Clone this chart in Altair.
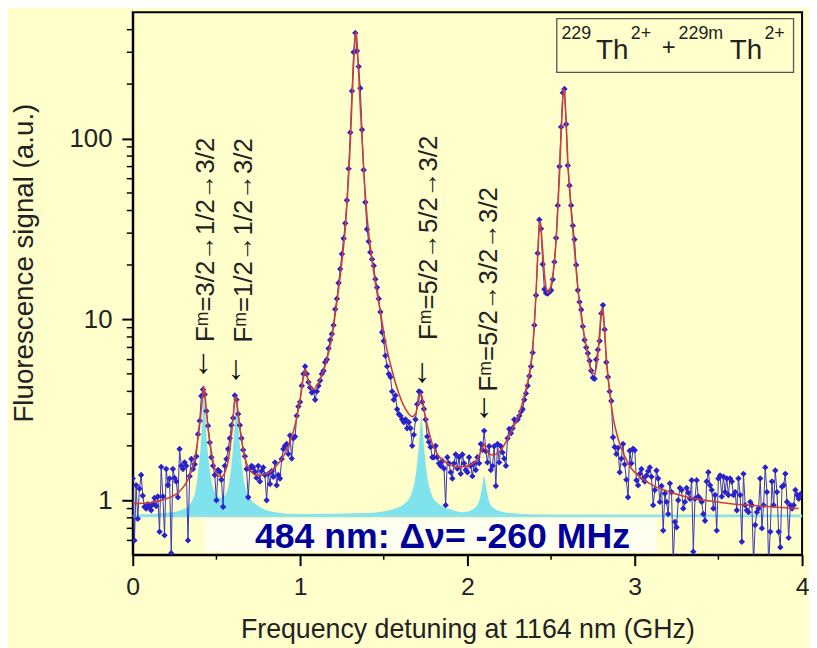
import altair as alt
import pandas as pd

FONT = "Liberation Sans, Arial, Helvetica, sans-serif"
BG = "#FFFFCC"

# ---------------- data ----------------
X_STEP = 0.01  # scan step (GHz)
SIGNAL = [
    1.32, 0.60, 1.21, 0.79, 1.16, 1.38, 1.06, 0.92, 0.90, 0.95,
    0.92, 0.88, 0.95, 1.03, 0.93, 1.05, 0.67, 1.53, 1.05, 0.64,
    1.49, 1.21, 1.32, 0.51, 1.49, 1.33, 1.27, 1.04, 1.92, 1.55,
    1.49, 1.62, 1.55, 0.60, 1.36, 1.69, 1.49, 1.58, 1.75, 2.32,
    2.75, 3.77, 4.10, 3.85, 3.12, 2.58, 2.09, 1.73, 1.55, 1.38,
    1.00, 1.47, 1.44, 1.30, 0.92, 1.55, 1.69, 1.92, 2.20, 2.60,
    2.85, 3.80, 3.60, 3.00, 2.60, 2.20, 1.90, 1.75, 1.49, 1.04,
    1.49, 1.55, 1.52, 1.44, 1.33, 1.55, 1.27, 1.45, 1.52, 1.38,
    1.00, 1.40, 1.23, 1.45, 1.35, 1.62, 1.21, 1.38, 1.32, 1.69,
    1.92, 2.00, 2.05, 1.80, 2.28, 1.70, 2.20, 2.25, 2.93, 3.30,
    3.50, 4.30, 5.00, 5.50, 5.00, 4.50, 4.20, 3.94, 4.00, 3.60,
    4.00, 4.30, 4.60, 5.00, 5.20, 5.80, 6.00, 6.90, 7.70, 8.30,
    9.30, 11.4, 13.0, 15.9, 19.0, 23.0, 28.0, 34.0, 45.6, 68.0,
    108, 183, 300, 384, 305, 250, 190, 112, 67.0, 44.5,
    31.5, 27.0, 23.5, 21.5, 19.8, 16.7, 15.0, 13.0, 11.0, 8.50,
    7.60, 6.30, 5.50, 5.00, 4.80, 4.00, 3.60, 3.80, 3.19, 3.00,
    2.93, 2.80, 2.70, 2.80, 2.50, 2.70, 2.50, 2.00, 2.30, 2.80,
    3.40, 4.00, 3.96, 3.50, 3.20, 2.80, 2.25, 2.10, 1.97, 1.73,
    1.73, 2.00, 1.73, 1.60, 1.55, 1.65, 1.50, 0.94, 1.73, 1.60,
    1.43, 1.32, 1.60, 1.79, 1.50, 1.73, 1.40, 1.79, 1.60, 1.47,
    1.43, 1.73, 1.55, 1.36, 1.60, 1.47, 1.73, 1.60, 2.05, 1.90,
    2.42, 1.87, 1.62, 1.99, 1.47, 1.55, 1.99, 1.20, 2.05, 1.62,
    1.99, 1.84, 1.70, 1.55, 2.20, 2.48, 2.35, 2.50, 2.80, 2.75,
    2.80, 2.93, 3.10, 3.19, 3.60, 3.90, 4.30, 4.86, 5.50, 6.55,
    9.30, 13.6, 23.2, 35.6, 31.7, 20.2, 14.7, 14.0, 13.9, 14.2,
    14.5, 16.6, 20.8, 28.2, 42.7, 70.0, 116, 179, 188, 120,
    71.0, 55.0, 42.7, 33.0, 27.7, 20.0, 14.5, 12.5, 11.3, 9.15,
    7.70, 7.00, 6.50, 5.90, 5.20, 4.76, 4.70, 6.00, 6.80, 7.60,
    10.8, 12.0, 8.80, 5.80, 4.80, 4.00, 3.54, 2.23, 1.97, 1.80,
    1.95, 1.43, 1.70, 2.05, 1.58, 1.30, 1.04, 1.88, 1.60, 1.93,
    1.89, 1.29, 1.21, 1.40, 1.49, 1.32, 1.27, 1.37, 1.45, 1.52,
    1.35, 0.94, 1.14, 1.46, 1.32, 0.98, 1.20, 0.68, 1.09, 0.98,
    0.84, 1.24, 1.11, 0.45, 0.76, 0.71, 1.00, 1.17, 1.14, 0.90,
    0.98, 1.17, 1.10, 1.02, 1.29, 0.52, 1.02, 1.29, 1.05, 1.02,
    0.98, 0.84, 0.77, 1.27, 1.43, 1.21, 1.14, 0.90, 1.07, 0.68,
    1.32, 1.37, 1.05, 1.35, 1.11, 1.32, 1.07, 1.32, 1.27, 1.07,
    1.11, 0.88, 1.32, 1.07, 0.59, 1.40, 0.94, 0.88, 0.86, 0.98,
    0.94, 0.45, 0.73, 0.86, 0.90, 1.32, 0.70, 0.94, 1.52, 1.11,
    0.44, 0.67, 1.27, 0.94, 1.46, 1.11, 0.67, 0.55, 1.19, 1.21,
    1.40, 0.98, 0.62, 0.94, 0.90, 0.94, 1.14, 1.07, 1.02, 1.08,
]

# fitted curve (red)
FIT_CURVE = [
    (0.00, 0.96), (0.10, 0.97), (0.20, 1.02), (0.28, 1.12), (0.33, 1.30), (0.36, 1.55),
    (0.38, 1.90), (0.40, 2.60), (0.41, 3.20), (0.42, 3.95), (0.425, 4.25), (0.43, 4.00),
    (0.44, 3.10), (0.45, 2.50), (0.47, 1.85), (0.49, 1.50), (0.51, 1.37), (0.53, 1.35),
    (0.55, 1.42), (0.57, 1.65), (0.59, 2.30), (0.60, 2.90), (0.61, 3.55), (0.615, 3.75),
    (0.62, 3.60), (0.63, 3.00), (0.64, 2.50), (0.66, 1.90), (0.68, 1.60), (0.71, 1.43),
    (0.75, 1.37), (0.80, 1.40), (0.85, 1.52), (0.90, 1.75), (0.94, 2.10), (0.97, 2.60),
    (1.00, 3.60), (1.02, 4.80), (1.03, 5.30), (1.04, 4.90), (1.06, 4.30), (1.08, 4.10),
    (1.10, 4.30), (1.13, 4.90), (1.16, 6.00), (1.19, 8.00), (1.22, 12.5), (1.25, 21.0),
    (1.27, 32.0), (1.29, 62.0), (1.30, 95.0), (1.31, 160), (1.32, 260), (1.33, 375),
    (1.335, 390), (1.34, 345), (1.35, 230), (1.36, 150), (1.37, 100), (1.38, 68.0),
    (1.40, 37.0), (1.42, 25.0), (1.45, 16.0), (1.48, 11.0), (1.51, 7.50), (1.55, 5.20),
    (1.59, 3.90), (1.63, 3.20), (1.67, 2.90), (1.69, 3.00), (1.70, 3.25), (1.71, 3.60),
    (1.72, 3.90), (1.73, 3.70), (1.74, 3.20), (1.76, 2.60), (1.79, 2.05), (1.83, 1.75),
    (1.88, 1.60), (1.94, 1.53), (2.00, 1.55), (2.05, 1.65), (2.08, 1.85), (2.095, 2.00),
    (2.10, 2.05), (2.105, 2.00), (2.12, 1.85), (2.15, 1.78), (2.19, 1.85), (2.23, 2.10),
    (2.27, 2.50), (2.31, 3.00), (2.34, 3.80), (2.37, 5.00), (2.39, 7.00), (2.40, 9.50),
    (2.41, 14.0), (2.42, 22.0), (2.43, 33.0), (2.435, 35.0), (2.44, 32.0), (2.45, 24.0),
    (2.46, 18.0), (2.47, 15.0), (2.48, 14.0), (2.49, 14.3), (2.50, 15.5), (2.51, 17.5),
    (2.52, 21.0), (2.53, 27.0), (2.54, 40.0), (2.55, 62.0), (2.56, 105), (2.57, 165),
    (2.575, 188), (2.58, 180), (2.59, 125), (2.60, 75.0), (2.61, 53.0), (2.62, 40.0),
    (2.63, 31.0), (2.64, 24.0), (2.66, 15.0), (2.68, 10.5), (2.70, 8.00), (2.72, 6.30),
    (2.74, 5.20), (2.76, 5.00), (2.78, 6.50), (2.79, 8.50), (2.80, 11.0), (2.805, 11.5),
    (2.81, 11.0), (2.82, 8.50), (2.83, 6.20), (2.85, 4.00), (2.87, 2.90), (2.90, 2.20),
    (2.94, 1.75), (2.98, 1.50), (3.03, 1.35), (3.10, 1.22), (3.20, 1.12), (3.30, 1.05),
    (3.45, 0.99), (3.60, 0.95), (3.75, 0.93), (3.90, 0.91), (3.98, 0.90),
]

# isomer peak components (cyan)
CYAN_BASE = 0.82
CYAN_PEAKS = [
    (0.00, 0.83), (0.20, 0.85), (0.30, 0.89), (0.35, 0.98), (0.38, 1.20), (0.395, 1.55),
    (0.405, 1.95), (0.413, 2.50), (0.419, 3.25), (0.425, 4.0), (0.431, 3.35), (0.437, 2.60),
    (0.445, 2.00), (0.455, 1.60), (0.47, 1.28), (0.50, 1.08), (0.53, 1.03), (0.56, 1.10),
    (0.58, 1.32), (0.595, 1.75), (0.605, 2.30), (0.613, 2.95), (0.62, 3.5), (0.627, 2.95),
    (0.635, 2.30), (0.645, 1.80), (0.66, 1.36), (0.69, 1.07), (0.75, 0.93), (0.85, 0.86),
    (1.00, 0.84), (1.40, 0.85), (1.55, 0.89), (1.63, 0.97), (1.67, 1.12), (1.69, 1.36),
    (1.705, 1.78), (1.716, 2.35), (1.725, 2.9), (1.734, 2.35), (1.745, 1.78), (1.76, 1.36),
    (1.78, 1.12), (1.82, 0.97), (1.90, 0.89), (1.98, 0.86), (2.04, 0.90), (2.07, 0.99),
    (2.085, 1.14), (2.095, 1.30), (2.10, 1.37), (2.105, 1.30), (2.115, 1.14), (2.13, 0.99),
    (2.16, 0.90), (2.25, 0.85), (2.50, 0.83), (4.00, 0.83),
]

ANNOT_TEXT = ["F\u1d50=3/2\u21921/2\u21923/2", "F\u1d50=1/2\u21921/2\u21923/2",
              "F\u1d50=5/2\u21925/2\u21923/2", "F\u1d50=5/2\u21923/2\u21923/2"]
ANNOT_X = [0.437, 0.665, 1.768, 2.132]
ANNOT_Y = [7.5, 7.45, 7.7, 4.0]
ARROW_X = [0.422, 0.617, 1.73, 2.10]
ARROW_Y = [5.75, 5.3, 5.13, 3.27]

LEGEND_BOX = [(2.534, 3.949, 232, 460)]
LEGEND_SUP = ["229", "2+", "229m", "2+"]
LEGEND_SUP_X = [2.562, 2.976, 3.262, 3.775]
LEGEND_TH_X = [2.769, 3.568]
LEGEND_PLUS_X = [3.162]

NOTE_TEXT = ["484 nm: \u0394\u03bd= -260 MHz"]

X_MAJOR = [0, 1, 2, 3, 4]
X_MINOR = [0.5, 1.5, 2.5, 3.5]
Y_MAJOR = [1, 10, 100]
Y_MINOR = [0.6, 0.7, 0.8, 0.9, 2, 3, 4, 5, 6, 7, 8, 9,
           20, 30, 40, 50, 60, 70, 80, 90, 200, 300, 400]

# ---------------- tables ----------------
sig_df = pd.DataFrame({"x": [round(i * X_STEP, 2) for i in range(len(SIGNAL))], "y": SIGNAL})
fit_df = pd.DataFrame(FIT_CURVE, columns=["x", "y"])
cyan_df = pd.DataFrame(CYAN_PEAKS, columns=["x", "y"])
cyan_df["y2"] = CYAN_BASE
base_df = pd.DataFrame({"x": [0.0], "x2": [4.0], "y": [CYAN_BASE]})
band_df = pd.DataFrame({"x": [0.43], "x2": [3.13], "y": [0.517], "y2": [0.79]})
annot_df = pd.DataFrame({"x": ANNOT_X, "y": ANNOT_Y, "t": ANNOT_TEXT})
arrow_df = pd.DataFrame({"x": ARROW_X, "y": ARROW_Y, "t": ["\u2193"] * len(ARROW_X)})
box_df = pd.DataFrame(LEGEND_BOX, columns=["x", "x2", "y", "y2"])
sup_df = pd.DataFrame({"x": LEGEND_SUP_X, "y": [353] * len(LEGEND_SUP_X), "t": LEGEND_SUP})
th_df = pd.DataFrame({"x": LEGEND_TH_X, "y": [274] * len(LEGEND_TH_X), "t": ["Th"] * len(LEGEND_TH_X)})
plus_df = pd.DataFrame({"x": LEGEND_PLUS_X, "y": [290], "t": ["+"]})
note_df = pd.DataFrame({"x": [1.851], "y": [0.543], "t": NOTE_TEXT})
ymin_df = pd.DataFrame({"y": Y_MINOR})
xmin_df = pd.DataFrame({"x": X_MINOR})

# ---------------- scales & axes ----------------
W, H = 676, 548
xs = alt.Scale(domain=[0, 4], nice=False, zero=False)
ys = alt.Scale(type="log", domain=[0.5, 500], nice=False)

xaxis = alt.Axis(values=X_MAJOR, format="d", title="Frequency detuning at 1164 nm (GHz)",
                 labelFont=FONT, labelFontSize=25, labelColor="#222222", labelPadding=9,
                 labelFlush=False, tickSize=11, tickWidth=2, tickColor="black",
                 domainColor="black", domainWidth=2, grid=False,
                 titleFont=FONT, titleFontSize=27, titleFontWeight="normal",
                 titleColor="#222222", titleY=84, titleBaseline="alphabetic")
yaxis = alt.Axis(values=Y_MAJOR, format="d", title="Fluorescence signal (a.u.)",
                 labelFont=FONT, labelFontSize=26, labelColor="#222222", labelPadding=10,
                 labelFlush=False, labelOverlap=False, tickSize=11, tickWidth=2,
                 tickColor="black", domainColor="black", domainWidth=2, grid=False,
                 titleFont=FONT, titleFontSize=28, titleFontWeight="normal",
                 titleColor="#222222", titleX=-109, titleY=253, titleAngle=270,
                 titleAlign="center", titleBaseline="middle")

X = alt.X("x:Q", scale=xs, axis=xaxis)
Y = alt.Y("y:Q", scale=ys, axis=yaxis)

band = alt.Chart(band_df).mark_rect(color="white", opacity=0.7).encode(
    x=X, x2="x2:Q", y=Y, y2="y2:Q")
cyan = alt.Chart(cyan_df).mark_area(color="#7FE3EE", opacity=1, interpolate="monotone").encode(
    x=X, y=Y, y2="y2:Q")
cyan_line = alt.Chart(base_df).mark_rule(color="#8FE2EA", strokeWidth=3).encode(
    x=X, x2="x2:Q", y=Y)
sig_line = alt.Chart(sig_df).mark_line(color="#3A36B4", strokeWidth=1, clip=True).encode(
    x=X, y=Y)
sig_pts = alt.Chart(sig_df).mark_point(shape="diamond", filled=True, size=42,
                                       color="#2A22CC", opacity=1, clip=True).encode(x=X, y=Y)
fit = alt.Chart(fit_df).mark_line(color="#CC3F3F", strokeWidth=1.6, interpolate="monotone").encode(
    x=X, y=Y)
annot = alt.Chart(annot_df).mark_text(angle=270, align="left", baseline="middle",
                                      font=FONT, fontSize=26, color="#222222").encode(
    x=X, y=Y, text="t:N")
arrows = alt.Chart(arrow_df).mark_text(align="center", baseline="middle",
                                       font=FONT, fontSize=34, color="#111111").encode(
    x=X, y=Y, text="t:N")
box = alt.Chart(box_df).mark_rect(fillOpacity=0, stroke="#555555", strokeWidth=1.3).encode(
    x=X, x2="x2:Q", y=Y, y2="y2:Q")
sup = alt.Chart(sup_df).mark_text(align="left", baseline="alphabetic", font=FONT,
                                  fontSize=18, color="#222222").encode(x=X, y=Y, text="t:N")
th = alt.Chart(th_df).mark_text(align="left", baseline="alphabetic", font=FONT,
                                fontSize=28, color="#222222").encode(x=X, y=Y, text="t:N")
plus = alt.Chart(plus_df).mark_text(align="left", baseline="alphabetic", font=FONT,
                                    fontSize=24, color="#222222").encode(x=X, y=Y, text="t:N")
note = alt.Chart(note_df).mark_text(align="center", baseline="alphabetic", font=FONT,
                                    fontSize=36, fontWeight="bold", color="#00009C").encode(
    x=X, y=Y, text="t:N")
ymin = alt.Chart(ymin_df).mark_rule(color="black", strokeWidth=1.5).encode(
    y=Y, x=alt.value(0), x2=alt.value(-6))
xmin = alt.Chart(xmin_df).mark_rule(color="black", strokeWidth=1.5).encode(
    x=X, y=alt.value(H), y2=alt.value(H + 5))

chart = alt.layer(
    band, cyan, cyan_line, sig_line, sig_pts, fit, annot, arrows,
    box, sup, th, plus, note, ymin, xmin
).properties(
    width=W, height=H,
    autosize=alt.AutoSizeParams(type="none"),
    padding={"left": 126, "top": 1, "right": 7, "bottom": 91},
    background=BG,
).configure_view(fill=BG, stroke="black", strokeWidth=2)

chart.save("out.html", embed_options={"renderer": "svg", "actions": False})
